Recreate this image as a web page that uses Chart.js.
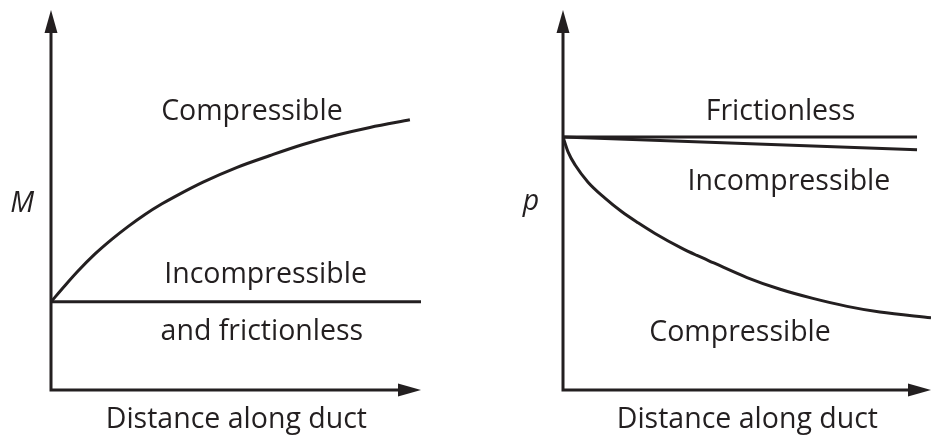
<!DOCTYPE html>
<html>
<head>
<meta charset="utf-8">
<script src="https://cdn.jsdelivr.net/npm/chart.js@4/dist/chart.umd.min.js"></script>
<style>
  html, body { margin: 0; padding: 0; background: #fff; }
  .panel { position: absolute; top: 0; }
  #left { left: 0; }
  #right { left: 465px; }
</style>
</head>
<body>
<div class="panel" id="left"><canvas id="cLeft" width="465" height="439"></canvas></div>
<div class="panel" id="right"><canvas id="cRight" width="466" height="439"></canvas></div>
<script>
// Two sketch panels: Mach number and pressure vs distance along a duct.
// Units are arbitrary (0..10 on both axes).

// --- left panel: M ---
const mCompX = [0, 0.38, 0.73, 1.19, 1.65, 2.08, 2.54, 3.0, 3.35, 4.11, 5.03, 5.92, 6.81, 7.73, 8.62, 9.7];
const mCompY = [2.32, 2.75, 3.13, 3.58, 3.97, 4.3, 4.62, 4.9, 5.09, 5.47, 5.86, 6.17, 6.46, 6.71, 6.91, 7.11];
const mIncX = [0, 10];
const mIncY = [2.32, 2.32];

// --- right panel: p ---
const pFricX = [0, 9.62];
const pFricY = [6.66, 6.66];
const pIncX = [0, 9.62];
const pIncY = [6.66, 6.32];
const pCompX = [0, 0.14, 0.33, 0.68, 1.14, 1.6, 2.04, 2.5, 3.21, 3.64, 4.08, 5.0, 5.9, 6.79, 7.72, 8.61, 10];
const pCompY = [6.66, 6.26, 5.92, 5.47, 5.05, 4.69, 4.4, 4.12, 3.74, 3.54, 3.35, 2.96, 2.65, 2.41, 2.2, 2.05, 1.9];

const INK = "#231f20";
const FONT = "'Open Sans', 'Noto Sans', sans-serif";

const zip = (xs, ys) => xs.map((x, i) => ({ x, y: ys[i] }));

function lineDs(xs, ys, smooth) {
  return {
    data: zip(xs, ys),
    showLine: true,
    borderColor: INK,
    borderWidth: 3,
    pointRadius: 0,
    cubicInterpolationMode: smooth ? "monotone" : "default",
    tension: smooth ? 0.4 : 0,
  };
}

// axes with arrowheads + free-floating labels, placed in data units
const sketchPlugin = {
  id: "sketch",
  afterDraw(chart, args, opts) {
    const { ctx, scales: { x, y }, chartArea: a } = chart;
    const x0 = x.getPixelForValue(0), y0 = y.getPixelForValue(0);
    const ah = 23, aw = 6.5;
    ctx.save();
    ctx.strokeStyle = INK;
    ctx.fillStyle = INK;
    ctx.lineWidth = 3;
    ctx.lineCap = "butt";
    ctx.beginPath();
    ctx.moveTo(x0, a.top + ah);
    ctx.lineTo(x0, y0 + 1.5);
    ctx.moveTo(x0 - 1.5, y0);
    ctx.lineTo(a.right - ah, y0);
    ctx.stroke();
    // y arrow
    ctx.beginPath();
    ctx.moveTo(x0, a.top);
    ctx.lineTo(x0 - aw, a.top + ah);
    ctx.lineTo(x0 + aw, a.top + ah);
    ctx.closePath();
    ctx.fill();
    // x arrow
    ctx.beginPath();
    ctx.moveTo(a.right, y0);
    ctx.lineTo(a.right - ah, y0 - aw);
    ctx.lineTo(a.right - ah, y0 + aw);
    ctx.closePath();
    ctx.fill();

    ctx.textAlign = "center";
    ctx.textBaseline = "alphabetic";
    (opts.labels || []).forEach(l => {
      ctx.font = `${l.italic ? "italic " : ""}28.5px ${FONT}`;
      ctx.fillText(l.text, x.getPixelForValue(l.x), y.getPixelForValue(l.y));
    });
    ctx.restore();
  },
};

function makeChart(id, datasets, padding, labels) {
  return new Chart(document.getElementById(id), {
    type: "scatter",
    data: { datasets },
    options: {
      responsive: false,
      devicePixelRatio: 1,
      animation: false,
      layout: { padding },
      scales: {
        x: { type: "linear", min: 0, max: 10, display: false },
        y: { type: "linear", min: 0, max: 10, display: false },
      },
      plugins: {
        legend: { display: false },
        tooltip: { enabled: false },
        sketch: { labels },
      },
    },
    plugins: [sketchPlugin],
  });
}

makeChart("cLeft",
  [lineDs(mCompX, mCompY, true), lineDs(mIncX, mIncY, false)],
  { left: 51, right: 44, top: 10, bottom: 49 },
  [
    { text: "Compressible", x: 5.43, y: 7.11 },
    { text: "Incompressible", x: 5.8, y: 2.82 },
    { text: "and frictionless", x: 5.7, y: 1.32 },
    { text: "M", x: -0.78, y: 4.68, italic: true },
    { text: "Distance along duct", x: 5.01, y: -1.0 },
  ]);

makeChart("cRight",
  [lineDs(pFricX, pFricY, false), lineDs(pIncX, pIncY, false), lineDs(pCompX, pCompY, true)],
  { left: 98, right: 0, top: 10, bottom: 49 },
  [
    { text: "Frictionless", x: 5.91, y: 7.11 },
    { text: "Incompressible", x: 6.14, y: 5.26 },
    { text: "p", x: -0.87, y: 4.74, italic: true },
    { text: "Compressible", x: 4.81, y: 1.29 },
    { text: "Distance along duct", x: 5.01, y: -1.0 },
  ]);
</script>
</body>
</html>
